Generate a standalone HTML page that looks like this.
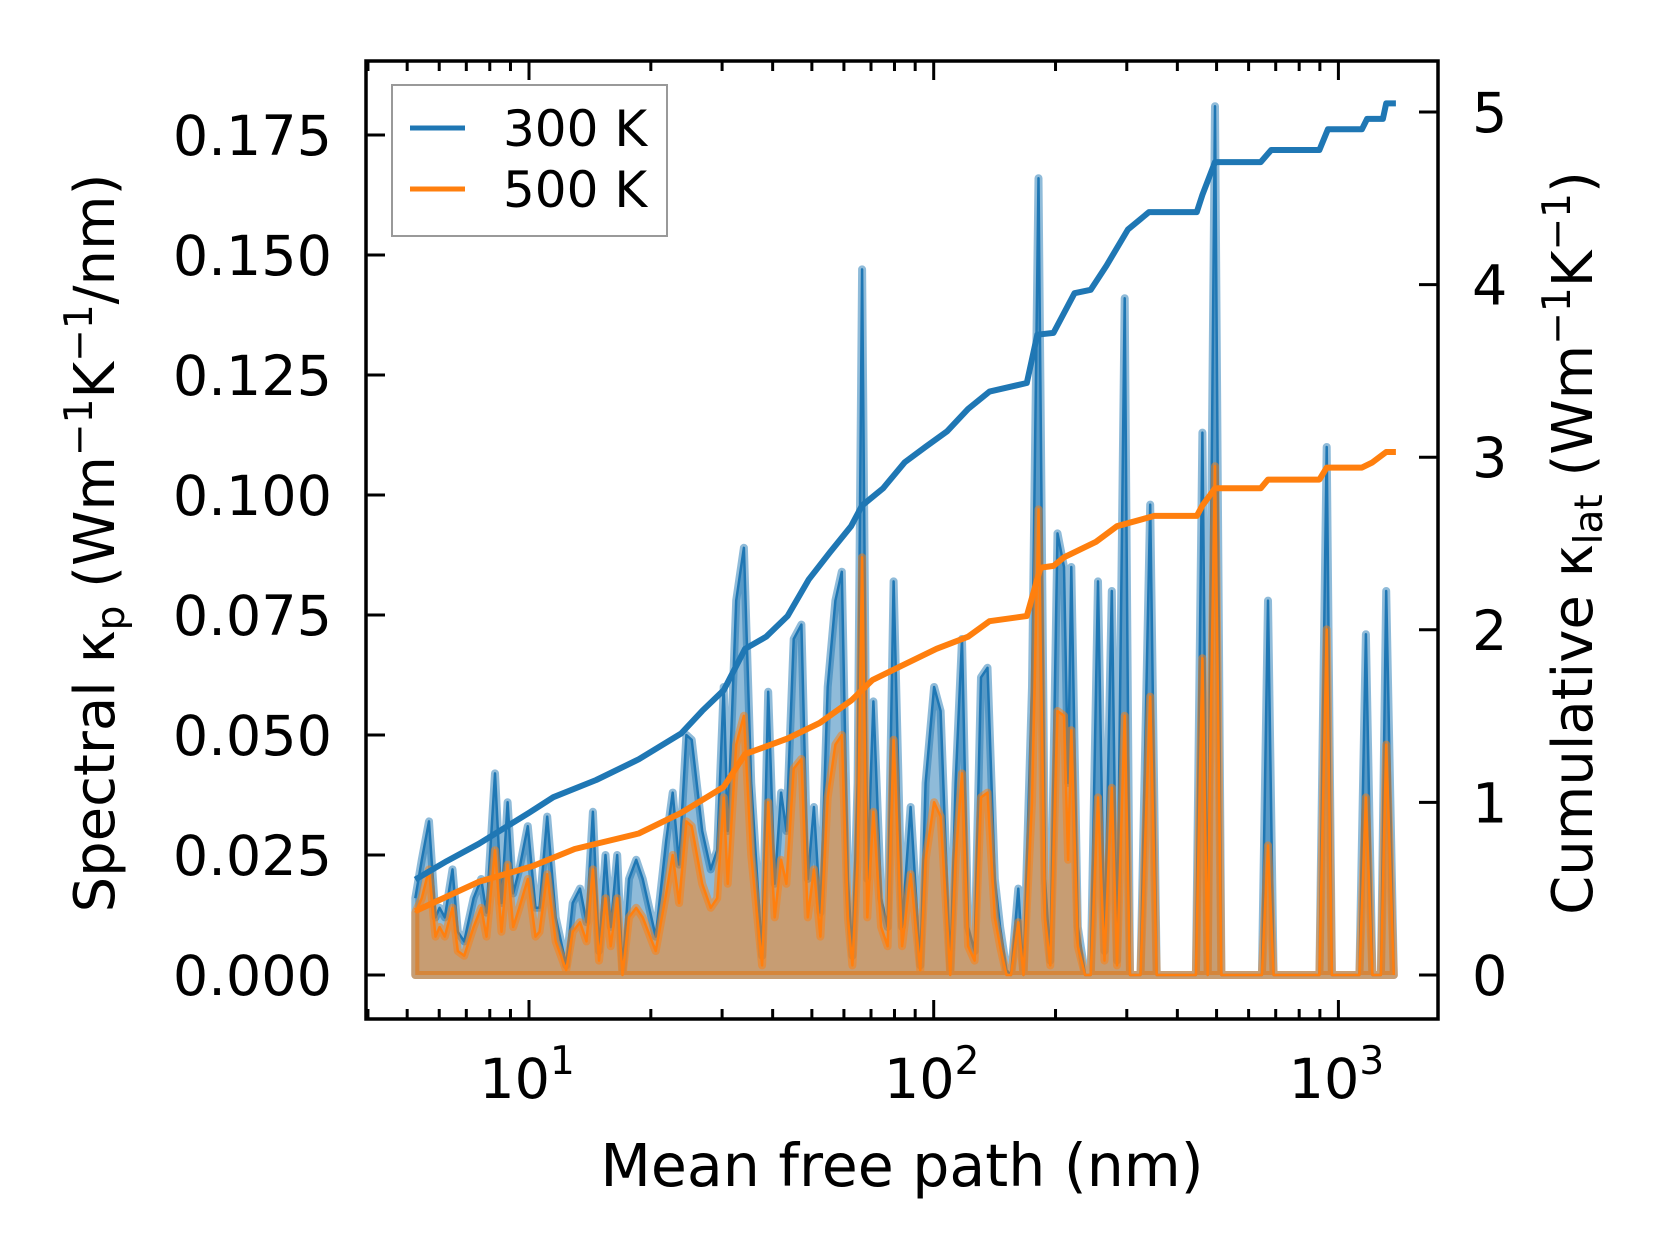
<!DOCTYPE html>
<html><head><meta charset="utf-8"><style>
html,body{margin:0;padding:0;background:#fff;}
svg{display:block;font-family:"DejaVu Sans","Liberation Sans",sans-serif;}
</style></head><body>
<svg id="chart" width="1660" height="1254" viewBox="0 0 1660 1254">
<g id="plot"></g>
</svg>
<script>
// log10 of mean free path (nm) for spectral points
const mfpLog = [0.719,0.735,0.753,0.769,0.779,0.792,0.811,0.824,0.840,0.863,0.882,0.895,0.916,0.932,0.947,0.961,0.976,0.997,1.016,1.026,1.045,1.066,1.092,1.108,1.126,1.142,1.158,1.173,1.189,1.202,1.218,1.231,1.247,1.265,1.281,1.313,1.339,1.355,1.371,1.389,1.402,1.428,1.449,1.465,1.481,1.491,1.512,1.531,1.549,1.576,1.591,1.607,1.623,1.636,1.654,1.673,1.689,1.704,1.720,1.738,1.757,1.773,1.788,1.799,1.812,1.823,1.836,1.851,1.870,1.886,1.901,1.922,1.943,1.967,1.980,2.001,2.017,2.041,2.054,2.070,2.085,2.101,2.117,2.133,2.151,2.164,2.180,2.191,2.209,2.222,2.243,2.259,2.275,2.288,2.306,2.322,2.332,2.340,2.356,2.374,2.388,2.406,2.422,2.440,2.453,2.472,2.485,2.511,2.535,2.551,2.648,2.664,2.677,2.682,2.695,2.711,2.811,2.826,2.840,2.953,2.971,2.984,3.052,3.068,3.084,3.105,3.118,3.137];
const spec300 = [0.016,0.024,0.032,0.012,0.014,0.012,0.022,0.009,0.007,0.016,0.020,0.013,0.042,0.015,0.036,0.017,0.022,0.031,0.014,0.014,0.033,0.012,0.002,0.015,0.018,0.011,0.034,0.005,0.025,0.010,0.025,0.001,0.020,0.024,0.020,0.008,0.028,0.038,0.023,0.050,0.049,0.030,0.022,0.026,0.060,0.030,0.078,0.089,0.040,0.004,0.059,0.019,0.038,0.030,0.070,0.073,0.020,0.035,0.013,0.060,0.078,0.084,0.020,0.004,0.040,0.147,0.020,0.057,0.016,0.010,0.082,0.010,0.035,0.002,0.040,0.060,0.055,0.001,0.040,0.070,0.010,0.005,0.062,0.064,0.020,0.010,0.001,0.000,0.018,0.000,0.060,0.166,0.020,0.003,0.092,0.085,0.040,0.085,0.010,0.000,0.000,0.082,0.005,0.080,0.003,0.141,0.000,0.000,0.098,0.000,0.000,0.113,0.000,0.060,0.181,0.000,0.000,0.078,0.000,0.000,0.110,0.000,0.000,0.071,0.000,0.000,0.080,0.000];
const spec500 = [0.013,0.016,0.022,0.008,0.010,0.008,0.014,0.005,0.004,0.010,0.014,0.008,0.026,0.009,0.023,0.010,0.014,0.020,0.008,0.009,0.021,0.007,0.001,0.009,0.011,0.007,0.022,0.003,0.016,0.006,0.016,0.000,0.012,0.014,0.012,0.005,0.017,0.025,0.015,0.032,0.031,0.019,0.014,0.016,0.037,0.019,0.048,0.054,0.025,0.002,0.036,0.012,0.024,0.019,0.043,0.045,0.012,0.022,0.008,0.037,0.048,0.050,0.012,0.002,0.024,0.087,0.012,0.034,0.010,0.006,0.049,0.006,0.021,0.001,0.024,0.036,0.033,0.000,0.024,0.042,0.006,0.003,0.037,0.038,0.012,0.006,0.000,0.000,0.011,0.000,0.036,0.097,0.012,0.002,0.055,0.054,0.024,0.051,0.006,0.000,0.000,0.037,0.003,0.039,0.002,0.054,0.000,0.000,0.058,0.000,0.000,0.066,0.000,0.040,0.106,0.000,0.000,0.027,0.000,0.000,0.072,0.000,0.000,0.037,0.000,0.000,0.048,0.000];
// cumulative curves
const cum300Log = [0.719,0.797,0.876,1.0,1.060,1.166,1.271,1.376,1.428,1.481,1.534,1.586,1.639,1.691,1.744,1.796,1.823,1.875,1.928,1.980,2.033,2.085,2.138,2.230,2.256,2.296,2.348,2.388,2.427,2.480,2.532,2.650,2.664,2.695,2.808,2.834,2.953,2.974,3.058,3.071,3.110,3.118,3.142];
const cum300 = [0.553,0.66,0.76,0.94,1.03,1.13,1.25,1.40,1.53,1.65,1.89,1.96,2.08,2.29,2.45,2.60,2.72,2.82,2.97,3.06,3.15,3.28,3.38,3.43,3.71,3.72,3.95,3.97,4.11,4.32,4.42,4.42,4.52,4.71,4.71,4.78,4.78,4.90,4.90,4.96,4.96,5.05,5.05];
const cum500Log = [0.719,0.876,1.008,1.113,1.271,1.376,1.481,1.534,1.639,1.718,1.796,1.849,1.928,2.007,2.085,2.138,2.230,2.264,2.296,2.322,2.401,2.453,2.545,2.650,2.664,2.695,2.808,2.826,2.953,2.971,3.058,3.084,3.118,3.142];
const cum500 = [0.37,0.54,0.63,0.73,0.82,0.94,1.09,1.28,1.37,1.46,1.59,1.71,1.80,1.89,1.96,2.05,2.08,2.36,2.37,2.42,2.51,2.60,2.66,2.66,2.72,2.82,2.82,2.87,2.87,2.94,2.94,2.97,3.03,3.03];
const leftTicks = [0,0.025,0.05,0.075,0.1,0.125,0.15,0.175];
const leftTickLabels = ["0.000","0.025","0.050","0.075","0.100","0.125","0.150","0.175"];
const rightTicks = [0,1,2,3,4,5];
const xDecades = [1,2,3];

const NS="http://www.w3.org/2000/svg";
const L=366,R=1438,T=61,B=1019;
const X=lg=>529+(lg-1)*404.7;
const YL=v=>975-v*4800;
const YR=v=>975-v*172.6;
const plot=document.getElementById('plot');
function mk(tag,attrs,parent){const e=document.createElementNS(NS,tag);for(const k in attrs)e.setAttribute(k,attrs[k]);(parent||plot).appendChild(e);return e;}

function area(vals,color,name){
  let d=`M${X(mfpLog[0])},${YL(0)} `;
  mfpLog.forEach((lg,i)=>{d+=`L${X(lg).toFixed(1)},${YL(vals[i]).toFixed(1)} `;});
  d+=`L${X(mfpLog[mfpLog.length-1])},${YL(0)} Z`;
  const p=mk('path',{d:d,fill:color,'fill-opacity':0.5,stroke:color,'stroke-opacity':0.5,'stroke-width':8,'stroke-linejoin':'round'});
  
  
  let ld='';
  mfpLog.forEach((lg,i)=>{ld+=(i?'L':'M')+X(lg).toFixed(1)+','+YL(vals[i]).toFixed(1)+' ';});
  const l=mk('path',{d:ld,fill:'none',stroke:color,'stroke-width':2.5,'stroke-linejoin':'round'});
  
  
}
area(spec300,'#1f77b4','spectral-300k');
area(spec500,'#ff7f0e','spectral-500k');

function cum(xs,vs,color,name){
  let d='';xs.forEach((lg,i)=>{d+=(i?'L':'M')+X(lg).toFixed(1)+','+YR(vs[i]).toFixed(1)+' ';});
  const p=mk('path',{d:d,fill:'none',stroke:color,'stroke-width':6,'stroke-linejoin':'round'});
  
  
}
cum(cum300Log,cum300,'#1f77b4','cumulative-300k');
cum(cum500Log,cum500,'#ff7f0e','cumulative-500k');

// spines
const fr=mk('rect',{x:L,y:T,width:R-L,height:B-T,fill:'none',stroke:'#000','stroke-width':3.5});



// x ticks
for(const dcd of [0,1,2,3]){
  for(let k=1;k<10;k++){
    const lg=dcd+Math.log10(k);
    if(lg<0.6||lg>3.25)continue;
    const len=(k===1)?19:10, x=X(lg);
    mk('line',{x1:x,x2:x,y1:B,y2:B-len,stroke:'#000','stroke-width':3});
    mk('line',{x1:x,x2:x,y1:T,y2:T+len,stroke:'#000','stroke-width':3});
  }
}
xDecades.forEach(dc=>{
  const t=mk('text',{x:X(dc)-2,y:1098,'font-size':55.6,'text-anchor':'middle'});
  
  
  t.textContent='10';
  const s=mk('tspan',{dy:-24,'font-size':39},t);s.textContent=String(dc);
});
leftTicks.forEach((v,i)=>{
  const y=YL(v);
  mk('line',{x1:L,x2:L+19,y1:y,y2:y,stroke:'#000','stroke-width':3});
  const t=mk('text',{x:332,y:y+20,'font-size':55.6,'text-anchor':'end'});
  
  
  t.textContent=leftTickLabels[i];
});
rightTicks.forEach(v=>{
  const y=YR(v);
  mk('line',{x1:R,x2:R-19,y1:y,y2:y,stroke:'#000','stroke-width':3});
  const t=mk('text',{x:1472,y:y+20,'font-size':55.6});
  
  
  t.textContent=String(v);
});

// axis titles
const xt=mk('text',{x:902,y:1186,'font-size':58.5,'text-anchor':'middle'});


xt.textContent='Mean free path (nm)';

const yl=mk('text',{x:0,y:0,'font-size':56,'text-anchor':'middle',transform:'translate(114,543) rotate(-90)'});


yl.innerHTML='Spectral κ<tspan dy="10" font-size="39">p</tspan><tspan dy="-10"> (Wm</tspan><tspan dy="-22" font-size="39">−1</tspan><tspan dy="22">K</tspan><tspan dy="-22" font-size="39">−1</tspan><tspan dy="22">/nm)</tspan>';

const yr=mk('text',{x:0,y:0,'font-size':56,'text-anchor':'middle',transform:'translate(1592,543) rotate(-90)'});


yr.innerHTML='Cumulative κ<tspan dy="10" font-size="39">lat</tspan><tspan dy="-10"> (Wm</tspan><tspan dy="-22" font-size="39">−1</tspan><tspan dy="22">K</tspan><tspan dy="-22" font-size="39">−1</tspan><tspan dy="22">)</tspan>';

// legend
const lg=mk('g',{});


mk('rect',{x:392,y:85,width:275,height:151,fill:'#fff','fill-opacity':0.8,stroke:'#999','stroke-width':2},lg);
[['300 K','#1f77b4',128],['500 K','#ff7f0e',189]].forEach(([lab,c,y])=>{
  const g=mk('g',{},lg);
  
  
  mk('line',{x1:410,x2:465,y1:y,y2:y,stroke:c,'stroke-width':5},g);
  const t=mk('text',{x:503,y:y+18,'font-size':50},g);
  t.textContent=lab;
});
</script>
</body></html>
